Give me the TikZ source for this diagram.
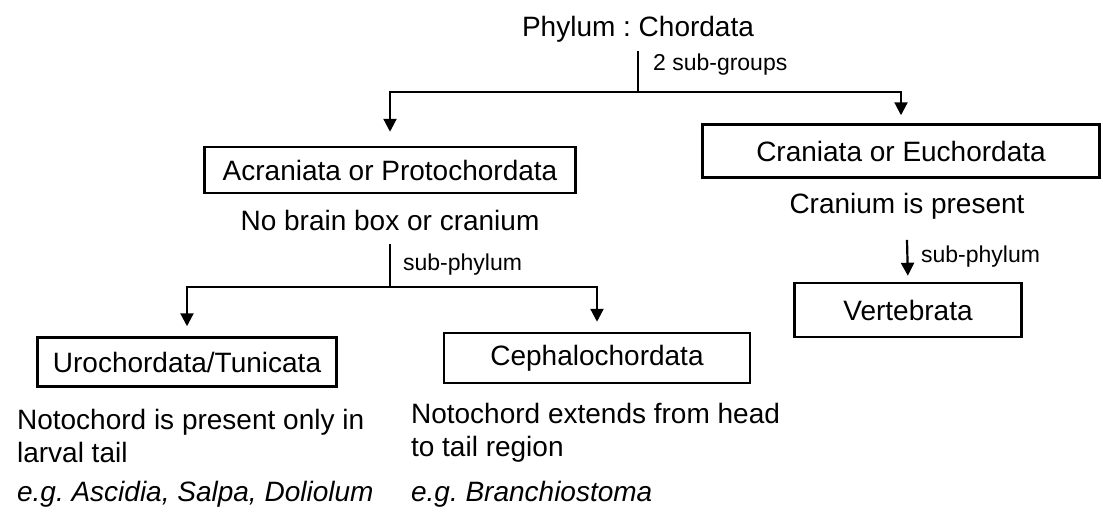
\documentclass[tikz,border=0pt]{standalone}
\usepackage{fontspec}
\setmainfont{Liberation Sans}
\usetikzlibrary{arrows.meta}
\frenchspacing

\begin{document}
\begin{tikzpicture}[x=1pt, y=-1pt,
    line width=2.2pt,
    box/.style={draw, line width=2.5pt, inner sep=0pt, font=\fontsize{28}{34}\selectfont},
    txt/.style={inner sep=0pt, anchor=base, font=\fontsize{28}{34}\selectfont},
    desc/.style={inner sep=0pt, anchor=base west, align=left, font=\fontsize{28}{33}\selectfont},
    lbl/.style={inner sep=0pt, anchor=base west, font=\fontsize{23}{28}\selectfont},
    arr/.style={-{Triangle[length=13pt,width=13pt]}}]
    \useasboundingbox (0,0) rectangle (1103,515);

    % phylum and its two groups
    \node[txt] (phylum) at (638,36) {Phylum : Chordata};
    \node[lbl] (groups) at (652,70) {2 sub-groups};
    \coordinate (split) at (638,92);

    \node[box, minimum width=371pt, minimum height=46pt] (acraniata) at (390,170) {Acraniata or Protochordata};
    \node[box, minimum width=397pt, minimum height=53pt] (craniata) at (901,151) {Craniata or Euchordata};

    \draw ([yshift=-8pt]phylum.south) -- (split);
    \draw[arr, shorten >=14pt] (split) -| (acraniata.north);
    \draw[arr, shorten >=8pt] (split) -| (craniata.north);

    % acraniata branch
    \node[txt] (nobrain) at (390,230) {No brain box or cranium};
    \node[lbl] (subphyA) at (402,270) {sub-phylum};
    \coordinate (splitA) at (390,287);

    \node[box, minimum width=299pt, minimum height=49pt] (uro) at (187,362) {Urochordata/Tunicata};
    \node[box, minimum width=306pt, minimum height=50pt] (cephalo) at (597,358) {Cephalochordata};

    \draw ([yshift=-13pt]nobrain.south) -- (splitA);
    \draw[arr, shorten >=10pt] (splitA) -| (uro.north);
    \draw[arr, shorten >=10pt] (splitA) -| (cephalo.north);

    \node[desc] (urodesc) at (16,462) {Notochord is present only in\\larval tail};
    \node[desc] (uroeg) at (16,501) {\itshape e.g. Ascidia, Salpa, Doliolum};
    \node[desc] (cephdesc) at (410,456) {Notochord extends from head\\to tail region};
    \node[desc] (cepheg) at (410,501) {\itshape e.g. Branchiostoma};

    % craniata branch
    \node[txt] (cranium) at (907,213) {Cranium is present};
    \node[lbl] (subphyC) at (920,262) {sub-phylum};
    \node[box, minimum width=227pt, minimum height=54pt] (vertebrata) at (908,310) {Vertebrata};

    \draw[arr, shorten >=6pt] ([yshift=-20pt]cranium.south) -- (vertebrata.north);
\end{tikzpicture}
\end{document}
